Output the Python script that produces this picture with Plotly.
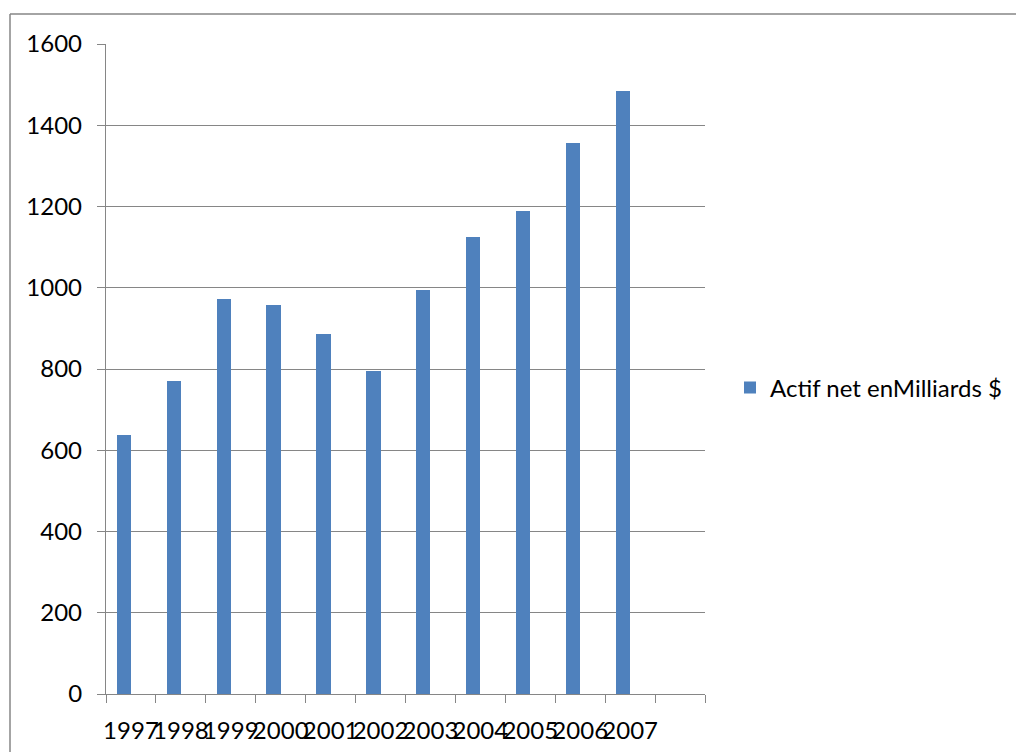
import plotly.graph_objects as go

# Net assets per year (billions of dollars)
years = ["1997", "1998", "1999", "2000", "2001", "2002",
         "2003", "2004", "2005", "2006", "2007"]
net_assets = [637, 771, 973, 957, 886, 796, 994, 1125, 1188, 1356, 1484]
series_name = "Actif net enMilliards $"
y_ticks = [0, 200, 400, 600, 800, 1000, 1200, 1400, 1600]

# an extra empty slot at the end of the category axis
categories = years + [" "]

W, H = 1016, 752
ML, MR, MT, MB = 106, 311, 44, 58
PW, PH = W - ML - MR, H - MT - MB

FONT = "Lato"
FS = 24
GRAY = "#868686"

fig = go.Figure()
fig.add_trace(go.Bar(
    x=years,
    y=net_assets,
    name=series_name,
    marker=dict(color="#4F81BD", line=dict(width=0)),
    width=0.285,
    offset=-0.285,
    showlegend=True,
))

def px_to_paper_x(px):
    return (px - ML) / PW

def px_to_paper_y(py):
    return (H - MB - py) / PH

fig.update_layout(
    width=W,
    height=H,
    margin=dict(l=ML, r=MR, t=MT, b=MB, autoexpand=False),
    paper_bgcolor="white",
    plot_bgcolor="white",
    font=dict(family=FONT, size=FS, color="#000000"),
    xaxis=dict(
        type="category",
        categoryorder="array",
        categoryarray=categories,
        tickvals=categories,
        range=[-0.5, len(categories) - 0.5],
        tickson="boundaries",
        tickangle=0,
        ticks="outside",
        ticklen=8,
        tickwidth=1.3,
        tickcolor=GRAY,
        showline=True,
        linecolor=GRAY,
        linewidth=1.3,
        showgrid=False,
        ticklabelstandoff=15,
        tickfont=dict(family=FONT, size=FS, color="#000000"),
        fixedrange=True,
    ),
    yaxis=dict(
        range=[0, 1600],
        tickvals=y_ticks,
        ticks="outside",
        ticklen=8,
        tickwidth=1.3,
        tickcolor=GRAY,
        showline=True,
        linecolor=GRAY,
        linewidth=1.3,
        showgrid=True,
        gridcolor=GRAY,
        gridwidth=1.3,
        zeroline=False,
        ticklabelstandoff=10,
        tickfont=dict(family=FONT, size=FS, color="#000000"),
        fixedrange=True,
    ),
    legend=dict(
        x=px_to_paper_x(730),
        y=px_to_paper_y(388),
        xanchor="left",
        yanchor="middle",
        font=dict(family=FONT, size=FS, color="#000000"),
        bgcolor="rgba(0,0,0,0)",
        itemclick=False,
    ),
    bargap=0,
    shapes=[
        # chart-area frame (continues past the right and bottom edges)
        dict(type="line", xref="paper", yref="paper",
             x0=px_to_paper_x(10), x1=px_to_paper_x(W + 5),
             y0=px_to_paper_y(14), y1=px_to_paper_y(14),
             line=dict(color=GRAY, width=1.5)),
        dict(type="line", xref="paper", yref="paper",
             x0=px_to_paper_x(10), x1=px_to_paper_x(10),
             y0=px_to_paper_y(14), y1=px_to_paper_y(H + 5),
             line=dict(color=GRAY, width=1.5)),
    ],
)

fig.write_html("out.html", config=dict(displayModeBar=False))
